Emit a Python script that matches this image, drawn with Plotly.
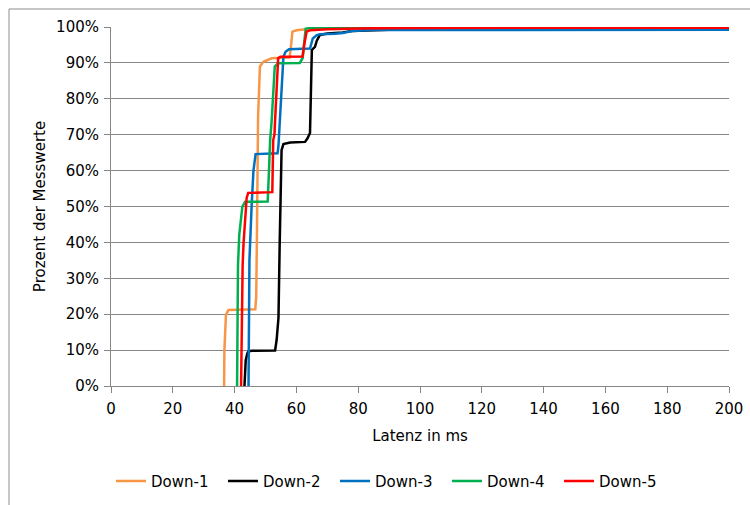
import plotly.graph_objects as go

names = ["Down-1", "Down-2", "Down-3", "Down-4", "Down-5"]
colors = ["#F79646", "#000000", "#0070C0", "#00B050", "#FF0000"]

d1_x = [36.6, 36.7, 37.2, 38.0, 46.7, 47.0, 47.2, 47.6, 48.2, 49.3, 52.0, 57.8, 58.3, 58.7, 60.1, 63, 70, 80, 200]
d1_y = [0, 10, 19.8, 21.2, 21.4, 25, 40, 75, 89, 90.3, 91.3, 91.5, 95, 98.7, 99.1, 99.4, 99.6, 99.8, 99.9]

d2_x = [43.2, 43.4, 43.6, 44.1, 44.4, 45.5, 53.1, 53.6, 54.0, 54.2, 54.6, 54.9, 55.2, 55.8, 58, 62.8, 63.6, 64.4, 64.8, 65.0, 66.0, 66.6, 67.6, 70, 75, 78, 90, 200]
d2_y = [0, 3, 7.2, 9.0, 9.6, 9.8, 9.9, 12.8, 17, 19, 40, 60, 65.7, 67.4, 67.8, 68, 69, 70.5, 85, 93.6, 94.5, 96.2, 97.8, 98.2, 98.5, 98.9, 99.2, 99.3]

d3_x = [44.5, 44.6, 44.8, 45.5, 46.1, 46.8, 53.9, 54.2, 55.0, 55.2, 55.8, 56.5, 57.6, 64.4, 65.3, 66.5, 67.6, 72.5, 75, 78, 85, 200]
d3_y = [0, 15, 35, 50, 60, 64.6, 64.8, 67, 78.8, 84, 91.7, 93.1, 93.8, 94, 96.8, 97.7, 98, 98.1, 98.3, 98.9, 99.15, 99.25]

d4_x = [40.8, 40.9, 41.1, 41.5, 41.7, 42.5, 43.4, 50.7, 51.1, 51.5, 52.0, 52.5, 53.0, 54.1, 61.1, 62.0, 62.6, 63.0, 64, 75, 200]
d4_y = [0, 20, 33.7, 42, 44, 49.9, 51.3, 51.4, 59.3, 68.5, 74, 83.4, 89, 89.9, 90, 91.3, 96.4, 99.5, 99.7, 99.85, 99.9]

d5_x = [42.1, 42.3, 42.6, 42.9, 43.4, 43.9, 44.4, 52.2, 52.5, 52.9, 53.1, 53.6, 54.1, 54.8, 62.0, 62.6, 63.3, 64.4, 70, 80, 95, 200]
d5_y = [0, 20, 33.7, 39.8, 46.2, 52.4, 53.8, 54.0, 68.5, 70, 74, 83.4, 91.3, 91.7, 91.8, 95.4, 98.7, 99.1, 99.4, 99.6, 99.75, 99.8]

xs = [d1_x, d2_x, d3_x, d4_x, d5_x]
ys = [d1_y, d2_y, d3_y, d4_y, d5_y]

y_ticks = [0, 10, 20, 30, 40, 50, 60, 70, 80, 90, 100]
x_ticks = [0, 20, 40, 60, 80, 100, 120, 140, 160, 180, 200]

FONT = "DejaVu Sans"
GRID = "#868686"

fig = go.Figure()
for n, c, x, y in zip(names, colors, xs, ys):
    fig.add_trace(go.Scatter(x=x, y=[v / 100 for v in y], mode="lines", name=n,
                             line=dict(color=c, width=2.5)))

fig.update_layout(
    width=750, height=505,
    margin=dict(l=111, r=21, t=27, b=119, autoexpand=False),
    paper_bgcolor="white", plot_bgcolor="white",
    font=dict(family=FONT, size=15, color="#000000"),
    showlegend=True,
    legend=dict(orientation="h", x=0.0, xanchor="left", y=-0.265, yanchor="middle",
                font=dict(size=15), entrywidth=67, entrywidthmode="pixels",
                tracegroupgap=0, bgcolor="rgba(0,0,0,0)"),
    xaxis=dict(range=[0, 200], tickvals=x_ticks, ticktext=[str(v) for v in x_ticks],
               showgrid=False, zeroline=False, showline=True, linecolor=GRID, linewidth=1,
               ticks="outside", ticklen=6, tickcolor=GRID, automargin=False,
               ticklabelstandoff=3,
               title=dict(text="Latenz in ms", standoff=13, font=dict(size=15))),
    yaxis=dict(range=[0, 1], tickvals=[v / 100 for v in y_ticks],
               ticktext=[f"{v}%" for v in y_ticks],
               showgrid=True, gridcolor=GRID, gridwidth=1, zeroline=False,
               showline=True, linecolor=GRID, linewidth=1,
               ticks="outside", ticklen=6, tickcolor=GRID, automargin=False,
               ticklabelstandoff=2,
               title=dict(text="Prozent der Messwerte", standoff=6, font=dict(size=15))),
)

fig.add_shape(type="rect", xref="paper", yref="paper",
              x0=(9 - 111) / 618, x1=1.2, y0=-0.5, y1=(386 - 9) / 359,
              line=dict(color="#8C8C8C", width=1), fillcolor="rgba(0,0,0,0)", layer="below")

fig.write_html("out.html")
